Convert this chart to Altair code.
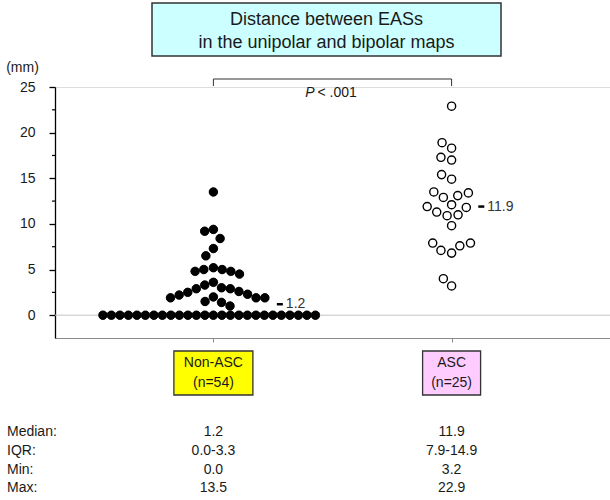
import math
import altair as alt
import pandas as pd

# ---------------- data ----------------
groups = ["Non-ASC", "ASC"]
group_n = [54, 25]
nonasc_values = [
    0.0, 0.0, 0.0, 0.0, 0.0, 0.0, 0.0, 0.0, 0.0, 0.0, 0.0, 0.0, 0.0,
    0.0, 0.0, 0.0, 0.0, 0.0, 0.0, 0.0, 0.0, 0.0, 0.0, 0.0, 0.0, 0.0,
    1.0, 1.4, 1.5, 1.9, 1.9, 1.9, 2.0, 2.2, 2.3, 2.5, 2.6, 2.9, 2.9, 3.0,
    3.3, 3.6, 4.5, 4.8, 4.8, 5.0, 5.0, 5.2, 6.5, 7.3, 8.4, 9.2, 9.4, 13.5,
]
asc_values = [
    22.9, 18.9, 18.3, 17.0, 17.3, 14.9, 15.4, 13.1, 13.4, 13.5, 12.9, 11.8,
    11.9, 12.1, 11.0, 10.9, 11.3, 9.8, 7.9, 7.1, 7.9, 7.6, 6.8, 4.0, 3.2,
]
medians = [1.2, 11.9]
median_labels = ["1.2", "11.9"]
stat_labels = ["Median:", "IQR:", "Min:", "Max:"]
nonasc_stats = ["1.2", "0.0-3.3", "0.0", "13.5"]
asc_stats = ["11.9", "7.9-14.9", "3.2", "22.9"]
title_lines = ["Distance between EASs", "in the unipolar and bipolar maps"]
y_major = [0, 5, 10, 15, 20, 25]
y_minor = [2.5, 7.5, 12.5, 17.5, 22.5]
y_unit = "(mm)"
p_italic = "P"
p_rest = "< .001"

# ---------------- layout / style ----------------
FONT = "Liberation Sans"
TXT = "#1a1a1a"
W, H = 555, 251
Y_DOM = [-2.5, 25]
X_PAD = 0.665
X_DOM = [1 - X_PAD, 2 + X_PAD]
PX_X = W / (X_DOM[1] - X_DOM[0])
PX_Y = H / (Y_DOM[1] - Y_DOM[0])
# d0: spacing on the zero floor, d: spacing between raised dots, k: vertical reach factor
swarm_style = [dict(d0=8.5, d=8.8, k=1.6, desc=True), dict(d0=11.0, d=11.0, k=1.0, desc=False)]
box_width = [79, 58]
box_fill = ["#ffff00", "#ffccff"]


def beeswarm(values, d0, d, k, desc):
    ys = [v * PX_Y for v in values]
    order = sorted(range(len(values)), key=lambda i: ((-values[i]) if desc else values[i], i))
    placed = []
    out = [0.0] * len(values)
    for i in order:
        y = ys[i]
        nb = []
        for (px, py, pv) in placed:
            if values[i] == 0 or pv == 0:
                dd, kk = d0, 1.0
            else:
                dd, kk = d, k
            dy = abs(py - y)
            if dy < kk * dd:
                w = dd * math.sqrt(1 - (dy / (kk * dd)) ** 2)
                nb.append((px, w))
        cands = [0.0]
        for px, w in nb:
            cands += [px - w, px + w]
        cands.sort(key=lambda c: (round(abs(c), 6), c))
        for c in cands:
            if all(abs(c - px) >= w - 1e-6 for px, w in nb):
                out[i] = c
                placed.append((c, y, values[i]))
                break
    return out


rows = []
dash_rows = []
for gi, vals in enumerate([nonasc_values, asc_values]):
    st = swarm_style[gi]
    offs = beeswarm(vals, st["d0"], st["d"], st["k"], st["desc"])
    for v, o in zip(vals, offs):
        rows.append(dict(group=groups[gi], gidx=gi + 1, value=v, xpos=gi + 1 + o / PX_X))
    mpx = medians[gi] * PX_Y
    ext = max(o + 5 for v, o in zip(vals, offs) if abs(v * PX_Y - mpx) < 10)
    x0 = ext + 7
    dash_rows.append(dict(
        value=medians[gi], label=median_labels[gi],
        x=gi + 1 + x0 / PX_X, x2=gi + 1 + (x0 + 6) / PX_X,
        tx=gi + 1 + (x0 + 9) / PX_X,
    ))
df_pts = pd.DataFrame(rows)
df_dash = pd.DataFrame(dash_rows)

x_scale = alt.Scale(domain=X_DOM, nice=False, zero=False)
y_scale = alt.Scale(domain=Y_DOM, nice=False, zero=False)

y_axis = alt.Axis(values=y_major, tickSize=6, tickWidth=1.3, domainWidth=1.3, domainColor="black",
                  tickColor="black", labelFontSize=14, labelFont=FONT, labelColor=TXT,
                  labelPadding=14, grid=False, title=y_unit, titleAngle=0, titleX=-33, titleY=-20,
                  titleFont=FONT, titleFontSize=14, titleFontWeight="normal", titleColor=TXT,
                  titleAlign="center", titleBaseline="middle")
x_axis = alt.Axis(values=[1, 2], labels=False, tickSize=4, tickColor="#8a8a8a", domainColor="#8a8a8a",
                  domainWidth=1.2, grid=False, title=None)


def X(field):
    return alt.X(field, type="quantitative", scale=x_scale, axis=x_axis, title=None)


def Y(field):
    return alt.Y(field, type="quantitative", scale=y_scale, axis=y_axis, title=y_unit)


one = pd.DataFrame({"a": [0]})


def ptext(text, xpx, ypx, size=14, **kw):
    return alt.Chart(one).mark_text(text=text, font=FONT, fontSize=size, color=TXT, **kw).encode(
        x=alt.value(xpx), y=alt.value(ypx))


layers = []

# points first (they own the axes)
base_pts = alt.Chart(df_pts)
layers.append(base_pts.transform_filter(alt.datum.gidx == 1).mark_point(
    shape="circle", filled=True, fill="black", stroke="black", strokeWidth=0.5, size=72, opacity=1
).encode(x=X("xpos"), y=Y("value")))
layers.append(base_pts.transform_filter(alt.datum.gidx == 2).mark_point(
    shape="circle", filled=True, fill="white", stroke="black", strokeWidth=1.4, size=66, opacity=1
).encode(x=X("xpos"), y=Y("value")))

# zero reference line
layers.append(alt.Chart(pd.DataFrame({"v": [0]})).mark_rule(color="#c4c4c4", strokeWidth=1).encode(
    y=Y("v"), x=alt.value(0), x2=alt.value(W)))

# minor ticks
layers.append(alt.Chart(pd.DataFrame({"v": y_minor})).mark_rule(color="black", strokeWidth=1.2).encode(
    y=Y("v"), x=alt.value(-3), x2=alt.value(0)))

# title box
layers.append(alt.Chart(one).mark_rect(fill="#9a9a9a", opacity=0.7, xOffset=2, yOffset=2).encode(
    x=alt.value(97), x2=alt.value(446), y=alt.value(-84), y2=alt.value(-31)))
layers.append(alt.Chart(one).mark_rect(fill="#ccffff", stroke="#333333", strokeWidth=1.5).encode(
    x=alt.value(97), x2=alt.value(446), y=alt.value(-84), y2=alt.value(-31)))
layers.append(ptext(title_lines[0], 271.5, -67, size=18, align="center", baseline="middle"))
layers.append(ptext(title_lines[1], 271.5, -44, size=18, align="center", baseline="middle"))

# significance bracket
df_br = pd.DataFrame({"x": [1], "x2": [2]})
layers.append(alt.Chart(df_br).mark_rule(color="#333333", strokeWidth=1).encode(
    x=X("x"), x2="x2", y=alt.value(-8)))
df_leg = pd.DataFrame({"x": [1, 2]})
layers.append(alt.Chart(df_leg).mark_rule(color="#333333", strokeWidth=1).encode(
    x=X("x"), y=alt.value(-8), y2=alt.value(-1)))
df_mid = pd.DataFrame({"x": [1.5]})
layers.append(alt.Chart(df_mid).mark_text(text=p_italic, font=FONT, fontSize=14, fontStyle="italic",
                                          color=TXT, align="right", baseline="middle", dx=-18).encode(
    x=X("x"), y=alt.value(6)))
layers.append(alt.Chart(df_mid).mark_text(text=p_rest, font=FONT, fontSize=14,
                                          color=TXT, align="left", baseline="middle", dx=-15).encode(
    x=X("x"), y=alt.value(6)))

# points drawn again on top of the zero line
layers.append(base_pts.transform_filter(alt.datum.gidx == 1).mark_point(
    shape="circle", filled=True, fill="black", stroke="black", strokeWidth=0.5, size=72, opacity=1
).encode(x=X("xpos"), y=Y("value")))

# median dashes and labels
layers.append(alt.Chart(df_dash).mark_rule(color="black", strokeWidth=2.5).encode(
    x=X("x"), x2="x2", y=Y("value")))
layers.append(alt.Chart(df_dash).mark_text(font=FONT, fontSize=14, color="#333333", align="left",
                                           baseline="middle").encode(
    x=X("tx"), y=Y("value"), text="label:N"))

# group boxes
box_rows = []
for gi in range(2):
    hw = box_width[gi] / 2 / PX_X
    box_rows.append(dict(gidx=gi + 1, x=gi + 1 - hw, x2=gi + 1 + hw, fill=box_fill[gi],
                         l1=groups[gi], l2=f"(n={group_n[gi]})"))
df_box = pd.DataFrame(box_rows)
layers.append(alt.Chart(df_box).mark_rect(fill="#9a9a9a", opacity=0.7, xOffset=2, yOffset=2).encode(
    x=X("x"), x2="x2", y=alt.value(264), y2=alt.value(308)))
layers.append(alt.Chart(df_box).mark_rect(stroke="#333333", strokeWidth=1.3).encode(
    x=X("x"), x2="x2", y=alt.value(264), y2=alt.value(308),
    fill=alt.Fill("fill:N", scale=None)))
layers.append(alt.Chart(df_box).mark_text(font=FONT, fontSize=14, color=TXT, align="center",
                                          baseline="middle").encode(
    x=X("gidx"), y=alt.value(276), text="l1:N"))
layers.append(alt.Chart(df_box).mark_text(font=FONT, fontSize=14, color=TXT, align="center",
                                          baseline="middle").encode(
    x=X("gidx"), y=alt.value(296), text="l2:N"))

# statistics table
row_y = [344.7, 363.6, 382.5, 401.4]
for ri in range(len(stat_labels)):
    layers.append(ptext(stat_labels[ri], -48, row_y[ri], align="left", baseline="middle"))
    df_row = pd.DataFrame({"gidx": [1, 2], "t": [nonasc_stats[ri], asc_stats[ri]]})
    layers.append(alt.Chart(df_row).mark_text(font=FONT, fontSize=14, color=TXT, align="center",
                                              baseline="middle").encode(
        x=X("gidx"), y=alt.value(row_y[ri]), text="t:N"))

chart = alt.layer(*layers).properties(
    width=W, height=H,
    autosize=alt.AutoSizeParams(type="none"),
    padding={"left": 55, "top": 87, "right": 0, "bottom": 162},
).configure_view(stroke=None).configure(background="white")

chart.save("out.html", embed_options={"renderer": "svg", "actions": False})
